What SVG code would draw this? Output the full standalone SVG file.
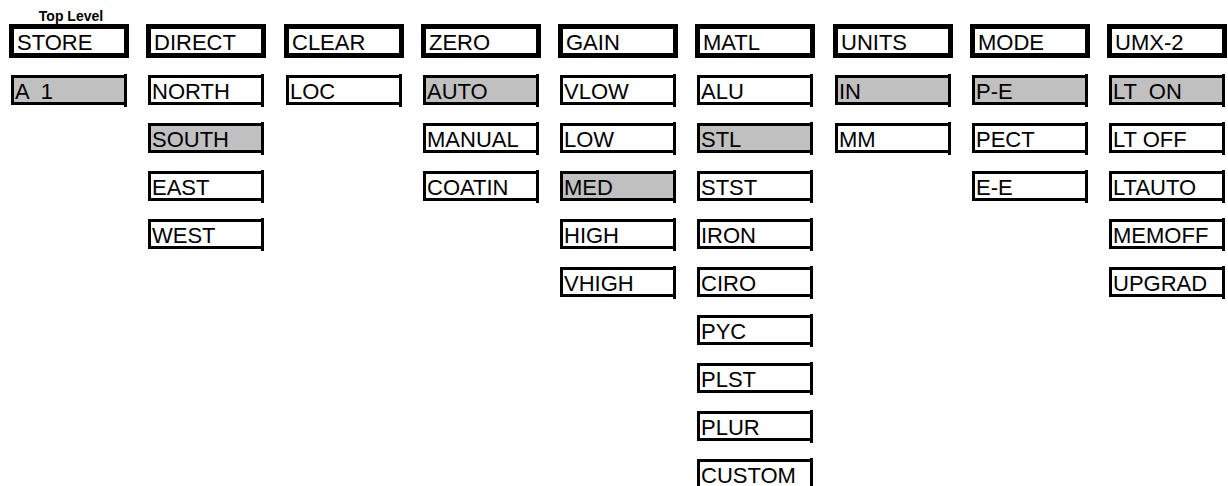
<svg xmlns="http://www.w3.org/2000/svg" width="1228" height="486" viewBox="0 0 1228 486">
  <style>
    text { font-family: "Liberation Sans", Arial, sans-serif; font-size: 22px; fill: #000; white-space: pre; }
    .caption { font-size: 14px; font-weight: bold; text-anchor: middle; }
    .top rect { fill: #fff; stroke: #000; stroke-width: 5; }
    .item rect { fill: #fff; stroke: #000; stroke-width: 3; }
    .item.sel rect { fill: #c0c0c0; }
    .item path { fill: none; stroke: #000; stroke-width: 3; }
  </style>
  <rect width="1228" height="486" fill="#fff"/>

  <text class="caption" x="71" y="21">Top Level</text>

  <!-- top-level menu headers -->
  <g id="store" class="top"><rect x="11.5" y="26.5" width="115" height="29"/><text x="17" y="50">STORE</text></g>
  <g id="direct" class="top"><rect x="148.5" y="26.5" width="115" height="29"/><text x="154" y="50">DIRECT</text></g>
  <g id="clear" class="top"><rect x="286.5" y="26.5" width="115" height="29"/><text x="292" y="50">CLEAR</text></g>
  <g id="zero" class="top"><rect x="423.5" y="26.5" width="115" height="29"/><text x="429" y="50">ZERO</text></g>
  <g id="gain" class="top"><rect x="560.5" y="26.5" width="115" height="29"/><text x="566" y="50">GAIN</text></g>
  <g id="matl" class="top"><rect x="697.5" y="26.5" width="115" height="29"/><text x="703" y="50">MATL</text></g>
  <g id="units" class="top"><rect x="835.5" y="26.5" width="115" height="29"/><text x="841" y="50">UNITS</text></g>
  <g id="mode" class="top"><rect x="972.5" y="26.5" width="115" height="29"/><text x="978" y="50">MODE</text></g>
  <g id="umx2" class="top"><rect x="1109.5" y="26.5" width="115" height="29"/><text x="1115" y="50">UMX-2</text></g>

  <!-- option boxes: frame, right edge drawn slightly past the corners, label -->
  <!-- STORE options -->
  <g id="store-a1" class="item sel" transform="translate(11 75)"><rect x="1.5" y="1.5" width="113" height="27"/><path d="M114.5 -1V32"/><text x="4" y="24">A  1</text></g>

  <!-- DIRECT options -->
  <g id="direct-north" class="item" transform="translate(148 75)"><rect x="1.5" y="1.5" width="113" height="27"/><path d="M114.5 -1V32"/><text x="4" y="24">NORTH</text></g>
  <g id="direct-south" class="item sel" transform="translate(148 123)"><rect x="1.5" y="1.5" width="113" height="27"/><path d="M114.5 -1V32"/><text x="4" y="24">SOUTH</text></g>
  <g id="direct-east" class="item" transform="translate(148 171)"><rect x="1.5" y="1.5" width="113" height="27"/><path d="M114.5 -1V32"/><text x="4" y="24">EAST</text></g>
  <g id="direct-west" class="item" transform="translate(148 219)"><rect x="1.5" y="1.5" width="113" height="27"/><path d="M114.5 -1V32"/><text x="4" y="24">WEST</text></g>

  <!-- CLEAR options -->
  <g id="clear-loc" class="item" transform="translate(286 75)"><rect x="1.5" y="1.5" width="113" height="27"/><path d="M114.5 -1V32"/><text x="4" y="24">LOC</text></g>

  <!-- ZERO options -->
  <g id="zero-auto" class="item sel" transform="translate(423 75)"><rect x="1.5" y="1.5" width="113" height="27"/><path d="M114.5 -1V32"/><text x="4" y="24">AUTO</text></g>
  <g id="zero-manual" class="item" transform="translate(423 123)"><rect x="1.5" y="1.5" width="113" height="27"/><path d="M114.5 -1V32"/><text x="4" y="24">MANUAL</text></g>
  <g id="zero-coatin" class="item" transform="translate(423 171)"><rect x="1.5" y="1.5" width="113" height="27"/><path d="M114.5 -1V32"/><text x="4" y="24">COATIN</text></g>

  <!-- GAIN options -->
  <g id="gain-vlow" class="item" transform="translate(560 75)"><rect x="1.5" y="1.5" width="113" height="27"/><path d="M114.5 -1V32"/><text x="4" y="24">VLOW</text></g>
  <g id="gain-low" class="item" transform="translate(560 123)"><rect x="1.5" y="1.5" width="113" height="27"/><path d="M114.5 -1V32"/><text x="4" y="24">LOW</text></g>
  <g id="gain-med" class="item sel" transform="translate(560 171)"><rect x="1.5" y="1.5" width="113" height="27"/><path d="M114.5 -1V32"/><text x="4" y="24">MED</text></g>
  <g id="gain-high" class="item" transform="translate(560 219)"><rect x="1.5" y="1.5" width="113" height="27"/><path d="M114.5 -1V32"/><text x="4" y="24">HIGH</text></g>
  <g id="gain-vhigh" class="item" transform="translate(560 267)"><rect x="1.5" y="1.5" width="113" height="27"/><path d="M114.5 -1V32"/><text x="4" y="24">VHIGH</text></g>

  <!-- MATL options -->
  <g id="matl-alu" class="item" transform="translate(697 75)"><rect x="1.5" y="1.5" width="113" height="27"/><path d="M114.5 -1V32"/><text x="4" y="24">ALU</text></g>
  <g id="matl-stl" class="item sel" transform="translate(697 123)"><rect x="1.5" y="1.5" width="113" height="27"/><path d="M114.5 -1V32"/><text x="4" y="24">STL</text></g>
  <g id="matl-stst" class="item" transform="translate(697 171)"><rect x="1.5" y="1.5" width="113" height="27"/><path d="M114.5 -1V32"/><text x="4" y="24">STST</text></g>
  <g id="matl-iron" class="item" transform="translate(697 219)"><rect x="1.5" y="1.5" width="113" height="27"/><path d="M114.5 -1V32"/><text x="4" y="24">IRON</text></g>
  <g id="matl-ciro" class="item" transform="translate(697 267)"><rect x="1.5" y="1.5" width="113" height="27"/><path d="M114.5 -1V32"/><text x="4" y="24">CIRO</text></g>
  <g id="matl-pyc" class="item" transform="translate(697 315)"><rect x="1.5" y="1.5" width="113" height="27"/><path d="M114.5 -1V32"/><text x="4" y="24">PYC</text></g>
  <g id="matl-plst" class="item" transform="translate(697 363)"><rect x="1.5" y="1.5" width="113" height="27"/><path d="M114.5 -1V32"/><text x="4" y="24">PLST</text></g>
  <g id="matl-plur" class="item" transform="translate(697 411)"><rect x="1.5" y="1.5" width="113" height="27"/><path d="M114.5 -1V32"/><text x="4" y="24">PLUR</text></g>
  <g id="matl-custom" class="item" transform="translate(697 459)"><rect x="1.5" y="1.5" width="113" height="27"/><path d="M114.5 -1V32"/><text x="4" y="24">CUSTOM</text></g>

  <!-- UNITS options -->
  <g id="units-in" class="item sel" transform="translate(835 75)"><rect x="1.5" y="1.5" width="113" height="27"/><path d="M114.5 -1V32"/><text x="4" y="24">IN</text></g>
  <g id="units-mm" class="item" transform="translate(835 123)"><rect x="1.5" y="1.5" width="113" height="27"/><path d="M114.5 -1V32"/><text x="4" y="24">MM</text></g>

  <!-- MODE options -->
  <g id="mode-pe" class="item sel" transform="translate(972 75)"><rect x="1.5" y="1.5" width="113" height="27"/><path d="M114.5 -1V32"/><text x="4" y="24">P-E</text></g>
  <g id="mode-pect" class="item" transform="translate(972 123)"><rect x="1.5" y="1.5" width="113" height="27"/><path d="M114.5 -1V32"/><text x="4" y="24">PECT</text></g>
  <g id="mode-ee" class="item" transform="translate(972 171)"><rect x="1.5" y="1.5" width="113" height="27"/><path d="M114.5 -1V32"/><text x="4" y="24">E-E</text></g>

  <!-- UMX-2 options -->
  <g id="umx2-lton" class="item sel" transform="translate(1109 75)"><rect x="1.5" y="1.5" width="113" height="27"/><path d="M114.5 -1V32"/><text x="4" y="24">LT  ON</text></g>
  <g id="umx2-ltoff" class="item" transform="translate(1109 123)"><rect x="1.5" y="1.5" width="113" height="27"/><path d="M114.5 -1V32"/><text x="4" y="24">LT OFF</text></g>
  <g id="umx2-ltauto" class="item" transform="translate(1109 171)"><rect x="1.5" y="1.5" width="113" height="27"/><path d="M114.5 -1V32"/><text x="4" y="24">LTAUTO</text></g>
  <g id="umx2-memoff" class="item" transform="translate(1109 219)"><rect x="1.5" y="1.5" width="113" height="27"/><path d="M114.5 -1V32"/><text x="4" y="24">MEMOFF</text></g>
  <g id="umx2-upgrad" class="item" transform="translate(1109 267)"><rect x="1.5" y="1.5" width="113" height="27"/><path d="M114.5 -1V32"/><text x="4" y="24">UPGRAD</text></g>
</svg>
